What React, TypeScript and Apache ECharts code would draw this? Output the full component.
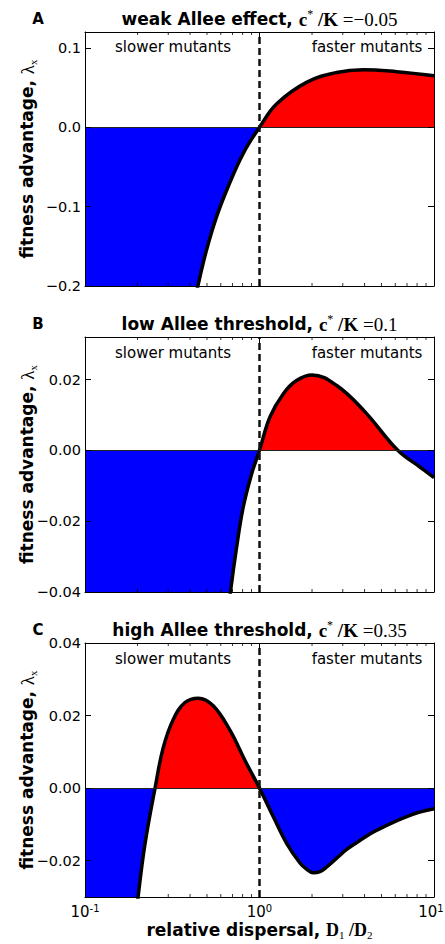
import React, { useEffect, useRef } from 'react';
import * as echarts from 'echarts';

// ---------- data ----------
const xA = [0.1, 0.2, 0.3, 0.38, 0.446, 0.498, 0.569, 0.662, 0.807, 1.0, 1.256, 1.86, 2.77, 3.94, 6.1, 10];
const yA = [-1.26, -0.66, -0.39, -0.267, -0.1975, -0.154, -0.112, -0.0746, -0.033, 0, 0.0296, 0.0566, 0.069, 0.0725, 0.07, 0.065];

const xB = [0.1, 0.3, 0.5, 0.6, 0.684, 0.74, 0.807, 0.902, 1.0, 1.148, 1.37, 1.63, 2.0, 2.77, 4.0, 6.2, 8.3, 10];
const yB = [-0.68, -0.245, -0.1, -0.063, -0.0394, -0.0272, -0.016, -0.0066, 0, 0.0094, 0.016, 0.0197, 0.0213, 0.0183, 0.011, 0, -0.0047, -0.0077];

const xC = [0.1, 0.15, 0.18, 0.202, 0.221, 0.252, 0.281, 0.321, 0.374, 0.446, 0.543, 0.678, 0.826, 1.0, 1.2, 1.43, 1.71, 1.86, 2.03, 2.22, 2.43, 2.77, 3.16, 3.85, 4.7, 7.28, 10];
const yC = [-0.2, -0.09, -0.051, -0.0295, -0.0152, 0, 0.0112, 0.019, 0.0236, 0.0248, 0.0227, 0.0159, 0.0076, 0, -0.0079, -0.0152, -0.0207, -0.0223, -0.0233, -0.023, -0.0217, -0.0193, -0.0169, -0.0141, -0.0116, -0.0075, -0.0057];

const yRangeA = [-0.2, 0.12];
const yRangeB = [-0.04, 0.032];
const yRangeC = [-0.03, 0.04];

const yTicksA = [-0.2, -0.1, 0, 0.1];
const yTicksB = [-0.04, -0.02, 0, 0.02];
const yTicksC = [-0.02, 0, 0.02, 0.04];

const xRange = [0.1, 10];
const minorTicks = [0.2, 0.3, 0.4, 0.5, 0.6, 0.7, 0.8, 0.9, 2, 3, 4, 5, 6, 7, 8, 9];

const panelLetters = ['A', 'B', 'C'];
const titleWords = ['weak Allee effect, ', 'low Allee threshold, ', 'high Allee threshold, '];
const cStarValues = ['\u22120.05', '0.1', '0.35'];
const leftNote = 'slower mutants';
const rightNote = 'faster mutants';

// ---------- layout ----------
const W = 445;
const H = 944;
const GL = 85;
const GR = 11;
const gridTops = [32, 337, 643];
const gridHeights = [254, 255, 254];
const titleY = [19, 324, 630];
const noteY = [47, 353, 659];

const SANS = '"DejaVu Sans", sans-serif';
const SERIF = '"Liberation Serif", "DejaVu Serif", serif';

function fmtY(v: number, d: number) {
  const s = Math.abs(v).toFixed(d);
  return (v < -1e-12 ? '\u2212' : '') + s;
}

function buildOption() {
  const panels = [
    { xs: xA, ys: yA, range: yRangeA, ticks: yTicksA, dec: 1 },
    { xs: xB, ys: yB, range: yRangeB, ticks: yTicksB, dec: 2 },
    { xs: xC, ys: yC, range: yRangeC, ticks: yTicksC, dec: 2 },
  ];

  const grid: any[] = [];
  const xAxis: any[] = [];
  const yAxis: any[] = [];
  const series: any[] = [];
  const fillIdx: number[] = [];
  const graphic: any[] = [];

  const axisLineStyle = { color: '#000', width: 1 };

  panels.forEach((p, i) => {
    grid.push({
      left: GL,
      right: GR,
      top: gridTops[i],
      height: gridHeights[i],
      containLabel: false,
      outerBoundsMode: 'none',
      show: false,
    });

    const isLast = i === panels.length - 1;
    xAxis.push({
      type: 'log',
      logBase: 10,
      gridIndex: i,
      position: 'bottom',
      min: xRange[0],
      max: xRange[1],
      z: 10,
      axisLine: { show: true, onZero: false, lineStyle: axisLineStyle },
      axisTick: { show: true, inside: true, length: 6, lineStyle: axisLineStyle },
      splitLine: { show: false },
      minorTick: { show: false },
      axisLabel: {
        show: isLast,
        margin: 6,
        formatter: (v: number) => {
          const e = Math.round(Math.log10(v));
          const sup = e > 0 ? 'e' : 's';
          return '{b|10}{' + sup + '|' + (e < 0 ? '-' : '') + Math.abs(e) + '}';
        },
        rich: {
          b: { fontSize: 15, fontFamily: SANS, color: '#000', lineHeight: 18, verticalAlign: 'middle' },
          s: { fontSize: 10, fontFamily: SANS, color: '#000', lineHeight: 10, verticalAlign: 'top' },
          e: { fontSize: 10, fontFamily: SANS, color: '#000', lineHeight: 10, verticalAlign: 'top', padding: [0, 6, 0, 0] },
        },
      },
      name: isLast ? '{b|relative dispersal, }{m|D}{s|1}{m| /D}{s|2}' : '',
      nameLocation: 'middle',
      nameGap: 23,
      nameTextStyle: {
        color: '#000',
        rich: {
          b: { fontSize: 17, fontWeight: 'bold', fontFamily: SANS, color: '#000', lineHeight: 20, verticalAlign: 'middle' },
          m: { fontSize: 18, fontWeight: 'bold', fontFamily: SERIF, color: '#000', lineHeight: 20, verticalAlign: 'middle' },
          s: { fontSize: 11, fontFamily: SERIF, color: '#000', lineHeight: 9, verticalAlign: 'bottom' },
        },
      },
    });
    xAxis.push({
      type: 'log',
      logBase: 10,
      gridIndex: i,
      position: 'top',
      min: xRange[0],
      max: xRange[1],
      z: 10,
      axisLine: { show: true, onZero: false, lineStyle: axisLineStyle },
      axisTick: { show: true, inside: true, length: 6, lineStyle: axisLineStyle },
      splitLine: { show: false },
      axisLabel: { show: false },
    });

    yAxis.push({
      type: 'value',
      gridIndex: i,
      position: 'left',
      min: p.range[0],
      max: p.range[1],
      z: 10,
      axisLine: { show: true, onZero: false, lineStyle: axisLineStyle },
      axisTick: { show: true, inside: true, length: 6, lineStyle: axisLineStyle, customValues: p.ticks },
      splitLine: { show: false },
      axisLabel: {
        show: true,
        customValues: p.ticks,
        margin: 4,
        color: '#000',
        fontSize: 14.5,
        fontFamily: SANS,
        formatter: (v: number) => fmtY(v, p.dec),
      },
      name: '{b|fitness advantage, }{l|\u03bb}{x|x}',
      nameLocation: 'middle',
      nameGap: 47,
      nameMoveOverlap: false,
      nameTextStyle: {
        color: '#000',
        rich: {
          b: { fontSize: 17, fontWeight: 'bold', fontFamily: SANS, color: '#000', lineHeight: 22, verticalAlign: 'middle' },
          l: { fontSize: 19, fontFamily: SERIF, color: '#000', lineHeight: 22, verticalAlign: 'middle' },
          x: { fontSize: 11, fontFamily: SERIF, color: '#000', lineHeight: 9, verticalAlign: 'bottom' },
        },
      },
    });
    yAxis.push({
      type: 'value',
      gridIndex: i,
      position: 'right',
      min: p.range[0],
      max: p.range[1],
      z: 10,
      axisLine: { show: true, onZero: false, lineStyle: axisLineStyle },
      axisTick: { show: true, inside: true, length: 6, lineStyle: axisLineStyle, customValues: p.ticks },
      splitLine: { show: false },
      axisLabel: { show: false },
    });

    const pts = p.xs.map((x, k) => [x, p.ys[k]]);
    fillIdx.push(series.length);
    series.push({
      type: 'line',
      xAxisIndex: 2 * i,
      yAxisIndex: 2 * i,
      data: pts,
      smooth: 0.4,
      symbol: 'none',
      showSymbol: false,
      silent: true,
      z: 1,
      lineStyle: { width: 0.01, opacity: 0 },
      areaStyle: { opacity: 1, origin: 0 },
      emphasis: { disabled: true },
      markLine: {
        silent: true,
        symbol: ['none', 'none'],
        label: { show: false },
        animation: false,
        data: [
          { yAxis: 0, lineStyle: { color: '#222', width: 1.2, type: 'solid' } },
          { xAxis: 1, lineStyle: { color: '#111', width: 2.5, type: [7, 4] } },
        ],
      },
    });
    series.push({
      type: 'line',
      xAxisIndex: 2 * i,
      yAxisIndex: 2 * i,
      data: pts,
      smooth: 0.4,
      symbol: 'none',
      showSymbol: false,
      silent: true,
      z: 3,
      lineStyle: { color: '#000', width: 3.5 },
      emphasis: { disabled: true },
    });
    series.push({
      type: 'scatter',
      xAxisIndex: 2 * i,
      yAxisIndex: 2 * i,
      data: minorTicks.map((x) => [x, p.range[0]]),
      symbol: 'rect',
      symbolSize: [1, 3],
      symbolOffset: [0, -1.5],
      itemStyle: { color: '#000' },
      clip: false,
      silent: true,
      z: 10,
    });
    series.push({
      type: 'scatter',
      xAxisIndex: 2 * i,
      yAxisIndex: 2 * i,
      data: minorTicks.map((x) => [x, p.range[1]]),
      symbol: 'rect',
      symbolSize: [1, 3],
      symbolOffset: [0, 1.5],
      itemStyle: { color: '#000' },
      clip: false,
      silent: true,
      z: 10,
    });

    const cx = GL + (W - GL - GR) / 2;
    graphic.push({
      type: 'text',
      x: 38,
      y: titleY[i],
      silent: true,
      style: {
        text: panelLetters[i],
        fontSize: 15,
        fontWeight: 'bold',
        fontFamily: SANS,
        fill: '#000',
        align: 'center',
        verticalAlign: 'middle',
      },
    });
    graphic.push({
      type: 'text',
      x: cx,
      y: titleY[i],
      silent: true,
      style: {
        text: '{b|' + titleWords[i] + '}{m|c}{sup|*}{m| /K}{r| =' + cStarValues[i] + '}',
        align: 'center',
        verticalAlign: 'middle',
        fill: '#000',
        rich: {
          b: { fontSize: 17, fontWeight: 'bold', fontFamily: SANS, fill: '#000', lineHeight: 22, verticalAlign: 'middle' },
          m: { fontSize: 19, fontWeight: 'bold', fontFamily: SERIF, fill: '#000', lineHeight: 22, verticalAlign: 'middle' },
          sup: { fontSize: 12, fontFamily: SERIF, fill: '#000', lineHeight: 10, verticalAlign: 'top' },
          r: { fontSize: 19, fontFamily: SERIF, fill: '#000', lineHeight: 22, verticalAlign: 'middle' },
        },
      },
    });
    graphic.push({
      type: 'text',
      x: 173,
      y: noteY[i],
      silent: true,
      style: { text: leftNote, fontSize: 15, fontFamily: SANS, fill: '#000', align: 'center', verticalAlign: 'middle' },
    });
    graphic.push({
      type: 'text',
      x: 367,
      y: noteY[i],
      silent: true,
      style: { text: rightNote, fontSize: 15, fontFamily: SANS, fill: '#000', align: 'center', verticalAlign: 'middle' },
    });
  });

  return {
    animation: false,
    backgroundColor: '#fff',
    textStyle: { fontFamily: SANS },
    grid,
    xAxis,
    yAxis,
    visualMap: {
      type: 'piecewise',
      show: false,
      seriesIndex: fillIdx,
      dimension: 1,
      pieces: [
        { gt: -10, lte: 0, color: '#0000ff' },
        { gt: 0, lte: 10, color: '#ff0000' },
      ],
    },
    series,
    graphic,
  };
}

export default function App() {
  const ref = useRef<HTMLDivElement>(null);
  useEffect(() => {
    document.body.style.margin = '0';
    if (!ref.current) return;
    const chart = echarts.init(ref.current, null, { renderer: 'svg', width: W, height: H });
    chart.setOption(buildOption() as any);
    return () => chart.dispose();
  }, []);
  return <div ref={ref} style={{ position: 'absolute', left: 0, top: 0, width: W, height: H }} />;
}
